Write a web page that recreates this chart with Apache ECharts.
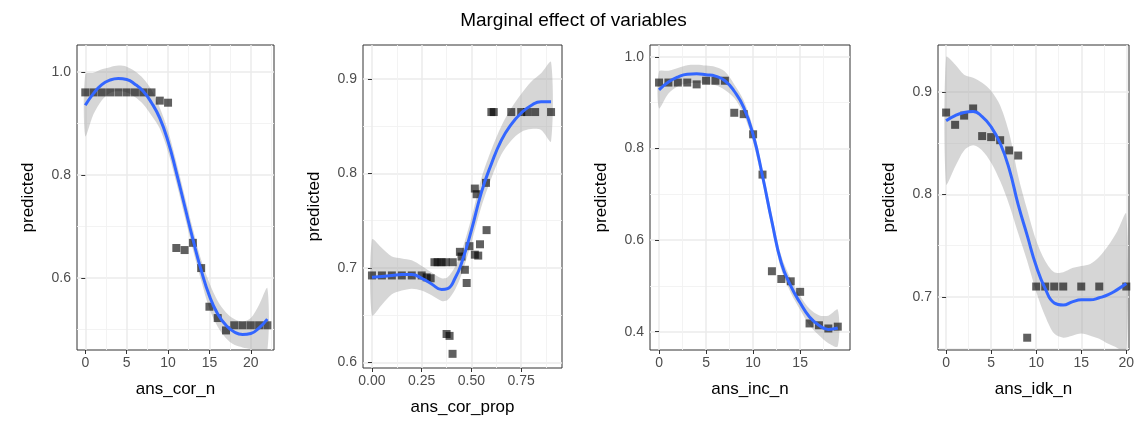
<!DOCTYPE html>
<html><head><meta charset="utf-8">
<script src="https://cdn.jsdelivr.net/npm/echarts@6/dist/echarts.min.js"></script>
<style>html,body{margin:0;padding:0;background:#fff}#chart{width:1147px;height:427px}</style>
</head><body><div id="chart"></div>
<script>
// panel 1: ans_cor_n
const p1PointX = [0,1,2,3,4,5,6,7,8,9,10,11,12,13,14,15,16,17,18,19,20,21,22];
const p1PointY = [0.96,0.96,0.96,0.96,0.96,0.96,0.96,0.96,0.96,0.944,0.94,0.658,0.654,0.668,0.619,0.544,0.522,0.498,0.508,0.508,0.508,0.508,0.508];
const p1FitX = [0,1,2,3,4,5,6,7,8,9,10,11,12,13,14,15,16,17,18,19,20,21,22];
const p1Fit = [0.935,0.958,0.975,0.984,0.987,0.985,0.976,0.962,0.94,0.91,0.865,0.805,0.74,0.675,0.615,0.565,0.53,0.508,0.495,0.49,0.492,0.503,0.52];
const p1Se = [0.06,0.04,0.03,0.025,0.025,0.025,0.025,0.025,0.025,0.02,0.02,0.02,0.02,0.02,0.02,0.025,0.025,0.025,0.025,0.025,0.03,0.045,0.06];

// panel 2: ans_cor_prop
const p2PointX = [0,0.05,0.1,0.15,0.2,0.25,0.275,0.295,0.314,0.33,0.35,0.37,0.406,0.375,0.39,0.405,0.442,0.45,0.467,0.476,0.49,0.517,0.534,0.543,0.576,0.517,0.526,0.573,0.6,0.612,0.7,0.75,0.78,0.82,0.9];
const p2PointY = [0.692,0.692,0.692,0.692,0.692,0.692,0.69,0.689,0.706,0.706,0.706,0.706,0.706,0.63,0.628,0.609,0.717,0.712,0.698,0.684,0.723,0.714,0.713,0.725,0.74,0.784,0.778,0.79,0.865,0.865,0.865,0.865,0.865,0.865,0.865];
const p2FitX = [0,0.05,0.1,0.15,0.2,0.25,0.3,0.35,0.38,0.42,0.45,0.5,0.55,0.6,0.65,0.7,0.75,0.8,0.85,0.9];
const p2Fit = [0.69,0.691,0.692,0.693,0.693,0.689,0.683,0.677,0.678,0.69,0.705,0.74,0.78,0.81,0.835,0.852,0.864,0.872,0.876,0.876];
const p2Se = [0.04,0.03,0.02,0.017,0.015,0.013,0.012,0.012,0.012,0.012,0.012,0.013,0.015,0.015,0.015,0.017,0.02,0.025,0.03,0.042];

// panel 3: ans_inc_n
const p3PointX = [0,1,2,3,4,5,6,7,8,9,10,11,12,13,14,15,16,17,18,19];
const p3PointY = [0.944,0.944,0.944,0.944,0.94,0.948,0.948,0.948,0.878,0.875,0.831,0.743,0.532,0.515,0.51,0.487,0.418,0.414,0.407,0.411];
const p3FitX = [0,1,2,3,4,5,6,7,8,9,10,11,12,13,14,15,16,17,18,19];
const p3Fit = [0.928,0.945,0.956,0.962,0.963,0.961,0.958,0.948,0.925,0.89,0.83,0.74,0.64,0.55,0.5,0.463,0.432,0.414,0.405,0.408];
const p3Se = [0.04,0.025,0.02,0.02,0.02,0.02,0.02,0.02,0.015,0.015,0.015,0.015,0.015,0.015,0.015,0.015,0.018,0.022,0.03,0.04];

// panel 4: ans_idk_n
const p4PointX = [0,1,2,3,4,5,6,7,8,9,10,11,12,13,15,17,20];
const p4PointY = [0.88,0.868,0.877,0.884,0.857,0.856,0.853,0.843,0.838,0.66,0.71,0.71,0.71,0.71,0.71,0.71,0.71];
const p4FitX = [0,1,2,3,4,5,6,7,8,9,10,11,12,13,14,15,16,17,18,19,20];
const p4Fit = [0.872,0.877,0.88,0.881,0.876,0.866,0.85,0.825,0.79,0.76,0.73,0.708,0.694,0.692,0.695,0.697,0.697,0.699,0.702,0.707,0.713];
const p4Se = [0.062,0.05,0.037,0.033,0.033,0.035,0.037,0.035,0.028,0.025,0.025,0.027,0.03,0.032,0.033,0.033,0.035,0.04,0.048,0.057,0.068];

const panels = [
  { name: "ans_cor_n", px: p1PointX, py: p1PointY, fx: p1FitX, fy: p1Fit, se: p1Se,
    xmin: -1, xmax: 22.8, ymin: 0.46, ymax: 1.052,
    xt: [0,5,10,15,20], xm: [2.5,7.5,12.5,17.5,22.5], yt: [0.6,0.8,1.0], ym: [0.5,0.7,0.9],
    grid: { left: 77, top: 45, width: 197, height: 305 } },
  { name: "ans_cor_prop", px: p2PointX, py: p2PointY, fx: p2FitX, fy: p2Fit, se: p2Se,
    xmin: -0.045, xmax: 0.955, ymin: 0.594, ymax: 0.936,
    xt: [0,0.25,0.5,0.75], xm: [0.125,0.375,0.625,0.875], yt: [0.6,0.7,0.8,0.9], ym: [0.65,0.75,0.85],
    grid: { left: 363, top: 45, width: 199, height: 323 } },
  { name: "ans_inc_n", px: p3PointX, py: p3PointY, fx: p3FitX, fy: p3Fit, se: p3Se,
    xmin: -0.96, xmax: 20.3, ymin: 0.36, ymax: 1.026,
    xt: [0,5,10,15], xm: [2.5,7.5,12.5,17.5], yt: [0.4,0.6,0.8,1.0], ym: [0.5,0.7,0.9],
    grid: { left: 650, top: 45, width: 200, height: 305 } },
  { name: "ans_idk_n", px: p4PointX, py: p4PointY, fx: p4FitX, fy: p4Fit, se: p4Se,
    xmin: -0.9, xmax: 20.3, ymin: 0.648, ymax: 0.946,
    xt: [0,5,10,15,20], xm: [2.5,7.5,12.5,17.5], yt: [0.7,0.8,0.9], ym: [0.65,0.75,0.85],
    grid: { left: 938, top: 45, width: 191, height: 305 } },
];

const grids = [], xAxes = [], yAxes = [], series = [];
const lbl = { color: "#4d4d4d", fontSize: 14, fontFamily: "Liberation Sans" };
const nameStyle = { color: "#000", fontSize: 17, fontFamily: "Liberation Sans" };

panels.forEach((p, i) => {
  grids.push(Object.assign({ show: true, borderColor: "#333", borderWidth: 1, backgroundColor: "#fff", z: 0 }, p.grid));
  const fmtX = p.name === "ans_cor_prop" ? (v) => v.toFixed(2) : (v) => String(v);
  // major x
  xAxes.push({
    type: "value", gridIndex: i, min: p.xmin, max: p.xmax,
    name: p.name, nameLocation: "middle", nameGap: 31, nameTextStyle: nameStyle,
    axisLine: { show: false },
    axisTick: { show: true, customValues: p.xt, length: 4, lineStyle: { color: "#333" } },
    axisLabel: Object.assign({ customValues: p.xt, formatter: fmtX, margin: 6 }, lbl),
    splitLine: { show: true, lineStyle: { color: "#ebebeb", width: 1.5 } },
  });
  // minor x
  xAxes.push({
    type: "value", gridIndex: i, min: p.xmin, max: p.xmax,
    axisLine: { show: false }, axisLabel: { show: false },
    axisTick: { show: false, customValues: p.xm },
    splitLine: { show: true, lineStyle: { color: "#f2f2f2", width: 0.9 } },
  });
  yAxes.push({
    type: "value", gridIndex: i, min: p.ymin, max: p.ymax,
    name: "predicted", nameLocation: "middle", nameGap: 40, nameRotate: 90, nameTextStyle: nameStyle,
    axisLine: { show: false },
    axisTick: { show: true, customValues: p.yt, length: 4, lineStyle: { color: "#333" } },
    axisLabel: Object.assign({ customValues: p.yt, formatter: (v) => v.toFixed(1), margin: 6 }, lbl),
    splitLine: { show: true, lineStyle: { color: "#ebebeb", width: 1.5 } },
  });
  yAxes.push({
    type: "value", gridIndex: i, min: p.ymin, max: p.ymax,
    axisLine: { show: false }, axisLabel: { show: false },
    axisTick: { show: false, customValues: p.ym },
    splitLine: { show: true, lineStyle: { color: "#f2f2f2", width: 0.9 } },
  });
  const xi = i * 2, yi = i * 2;
  const band = p.fx.map((x, k) => [x, p.fy[k] - p.se[k], p.fy[k] + p.se[k]]);
  series.push({
    type: "custom", xAxisIndex: xi, yAxisIndex: yi, clip: true, z: 1,
    data: [0],
    renderItem: (params, api) => {
      const upper = band.map((d) => api.coord([d[0], d[2]]));
      const lower = band.slice().reverse().map((d) => api.coord([d[0], d[1]]));
      return { type: "polygon", shape: { points: upper.concat(lower), smooth: 0.3 }, style: { fill: "rgba(153,153,153,0.4)" } };
    },
    silent: true,
  });
  series.push({
    type: "scatter", xAxisIndex: xi, yAxisIndex: yi, symbol: "rect", symbolSize: 8, z: 2,
    itemStyle: { color: "rgba(0,0,0,0.78)" },
    data: p.px.map((x, k) => [x, p.py[k]]),
  });
  series.push({
    type: "line", xAxisIndex: xi, yAxisIndex: yi, smooth: true, showSymbol: false, z: 3,
    lineStyle: { color: "#3366ff", width: 3 },
    data: p.fx.map((x, k) => [x, p.fy[k]]),
  });
});

const chart = echarts.init(document.getElementById("chart"));
chart.setOption({
  animation: false,
  title: { text: "Marginal effect of variables", left: "center", top: 6,
    textStyle: { color: "#000", fontSize: 19, fontWeight: "normal", fontFamily: "Liberation Sans" } },
  grid: grids, xAxis: xAxes, yAxis: yAxes, series: series,
});
</script></body></html>
